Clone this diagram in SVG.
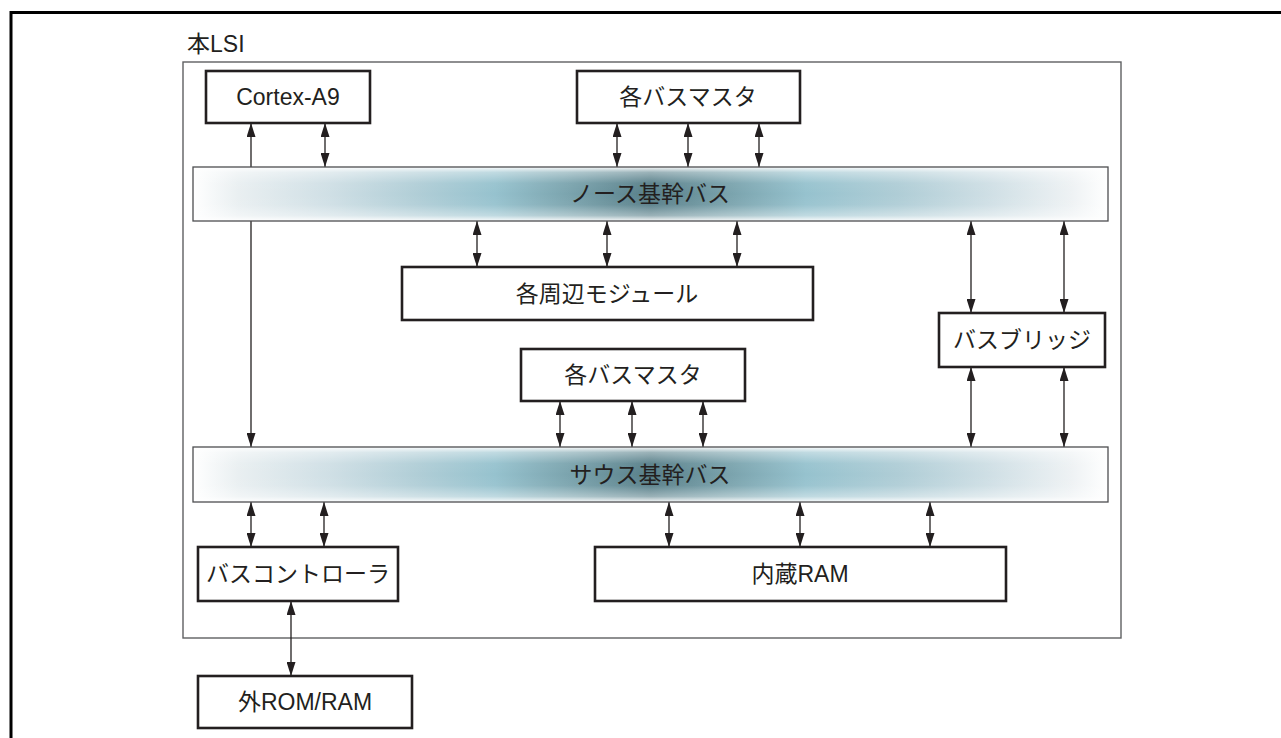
<svg xmlns="http://www.w3.org/2000/svg" width="1281" height="738" viewBox="0 0 1281 738">
<style>
  text { font-family: "Liberation Sans", "Noto Sans CJK JP", sans-serif; font-size: 23px; fill: #231f20; text-anchor: middle; }
  .box { fill: #ffffff; stroke: #231f20; stroke-width: 2.6; }
  .lsi { fill: #ffffff; stroke: #5f6062; stroke-width: 1.4; }
  .busframe { fill: none; stroke: #4d4e50; stroke-width: 1.3; }
  .conn { stroke: #231f20; stroke-width: 1.3; fill: none; }
  .da { marker-start: url(#ah); marker-end: url(#ah); }
</style>
<defs>
  <marker id="ah" viewBox="0 0 14 9" refX="14" refY="4.5" markerWidth="14" markerHeight="9" markerUnits="userSpaceOnUse" orient="auto-start-reverse">
    <path d="M0,0 L14,4.5 L0,9 z" fill="#231f20"/>
  </marker>
  <linearGradient id="hg" x1="0" y1="0" x2="1" y2="0">
    <stop offset="0" stop-color="#ffffff"/>
    <stop offset="0.05" stop-color="#e9eff1"/>
    <stop offset="0.15" stop-color="#cfdfe5"/>
    <stop offset="0.25" stop-color="#afcdd6"/>
    <stop offset="0.33" stop-color="#96c2ce"/>
    <stop offset="0.41" stop-color="#7ba4ae"/>
    <stop offset="0.5" stop-color="#587f89"/>
    <stop offset="0.59" stop-color="#7ba4ae"/>
    <stop offset="0.67" stop-color="#96c2ce"/>
    <stop offset="0.77" stop-color="#afcdd6"/>
    <stop offset="0.87" stop-color="#cfdfe5"/>
    <stop offset="0.96" stop-color="#eef2f4"/>
    <stop offset="1" stop-color="#ffffff"/>
  </linearGradient>
  <linearGradient id="vg" x1="0" y1="0" x2="0" y2="1">
    <stop offset="0" stop-color="#ffffff" stop-opacity="0.95"/>
    <stop offset="0.1" stop-color="#ffffff" stop-opacity="0.4"/>
    <stop offset="0.3" stop-color="#ffffff" stop-opacity="0.05"/>
    <stop offset="0.5" stop-color="#ffffff" stop-opacity="0"/>
    <stop offset="0.7" stop-color="#ffffff" stop-opacity="0.05"/>
    <stop offset="0.9" stop-color="#ffffff" stop-opacity="0.4"/>
    <stop offset="1" stop-color="#ffffff" stop-opacity="0.95"/>
  </linearGradient>
</defs>

<rect width="1281" height="738" fill="#ffffff"/>
<!-- outer frame -->
<path d="M11,738 V12.5 H1281" fill="none" stroke="#000000" stroke-width="3"/>

<!-- LSI boundary -->
<g id="lsi">
  <rect class="lsi" x="183" y="62" width="938" height="576"/>
  <text x="187" y="52" style="text-anchor:start">本LSI</text>
</g>

<!-- connectors (drawn before buses so buses cover the long line) -->
<g id="connectors">
  <line class="conn" x1="251" y1="123" x2="251" y2="447" marker-start="url(#ah)" marker-end="url(#ah)"/>
  <line class="conn da" x1="325" y1="123" x2="325" y2="167"/>
  <line class="conn da" x1="617" y1="123" x2="617" y2="167"/>
  <line class="conn da" x1="688" y1="123" x2="688" y2="167"/>
  <line class="conn da" x1="759" y1="123" x2="759" y2="167"/>
  <line class="conn da" x1="477" y1="221" x2="477" y2="267"/>
  <line class="conn da" x1="607" y1="221" x2="607" y2="267"/>
  <line class="conn da" x1="737" y1="221" x2="737" y2="267"/>
  <line class="conn da" x1="971" y1="221" x2="971" y2="313"/>
  <line class="conn da" x1="1064" y1="221" x2="1064" y2="313"/>
  <line class="conn da" x1="971" y1="367" x2="971" y2="447"/>
  <line class="conn da" x1="1064" y1="367" x2="1064" y2="447"/>
  <line class="conn da" x1="560" y1="401" x2="560" y2="447"/>
  <line class="conn da" x1="632" y1="401" x2="632" y2="447"/>
  <line class="conn da" x1="703" y1="401" x2="703" y2="447"/>
  <line class="conn da" x1="251" y1="502" x2="251" y2="547"/>
  <line class="conn da" x1="324" y1="502" x2="324" y2="547"/>
  <line class="conn da" x1="669" y1="502" x2="669" y2="547"/>
  <line class="conn da" x1="800" y1="502" x2="800" y2="547"/>
  <line class="conn da" x1="930" y1="502" x2="930" y2="547"/>
  <line class="conn da" x1="291" y1="601" x2="291" y2="676"/>
</g>

<g id="north-bus">
  <rect x="193" y="167" width="915" height="54" fill="url(#hg)"/>
  <rect x="193" y="167" width="915" height="54" fill="url(#vg)"/>
  <rect class="busframe" x="193" y="167" width="915" height="54"/>
  <text x="650" y="202">ノース基幹バス</text>
</g>

<g id="south-bus">
  <rect x="193" y="447" width="915" height="55" fill="url(#hg)"/>
  <rect x="193" y="447" width="915" height="55" fill="url(#vg)"/>
  <rect class="busframe" x="193" y="447" width="915" height="55"/>
  <text x="650" y="483">サウス基幹バス</text>
</g>

<g id="cortex">
  <rect class="box" x="206" y="71" width="164" height="52"/>
  <text x="288" y="105">Cortex-A9</text>
</g>
<g id="busmaster-top">
  <rect class="box" x="577" y="71" width="223" height="52"/>
  <text x="688" y="105">各バスマスタ</text>
</g>
<g id="peripherals">
  <rect class="box" x="402" y="267" width="411" height="53"/>
  <text x="607" y="302">各周辺モジュール</text>
</g>
<g id="bridge">
  <rect class="box" x="939" y="313" width="166" height="54"/>
  <text x="1022" y="348">バスブリッジ</text>
</g>
<g id="busmaster-mid">
  <rect class="box" x="521" y="349" width="224" height="52"/>
  <text x="633" y="383">各バスマスタ</text>
</g>
<g id="bus-controller">
  <rect class="box" x="198" y="547" width="200" height="54"/>
  <text x="298" y="582">バスコントローラ</text>
</g>
<g id="internal-ram">
  <rect class="box" x="595" y="547" width="411" height="54"/>
  <text x="800" y="582">内蔵RAM</text>
</g>
<g id="external-mem">
  <rect class="box" x="198" y="676" width="214" height="52"/>
  <text x="305" y="710">外ROM/RAM</text>
</g>
</svg>
